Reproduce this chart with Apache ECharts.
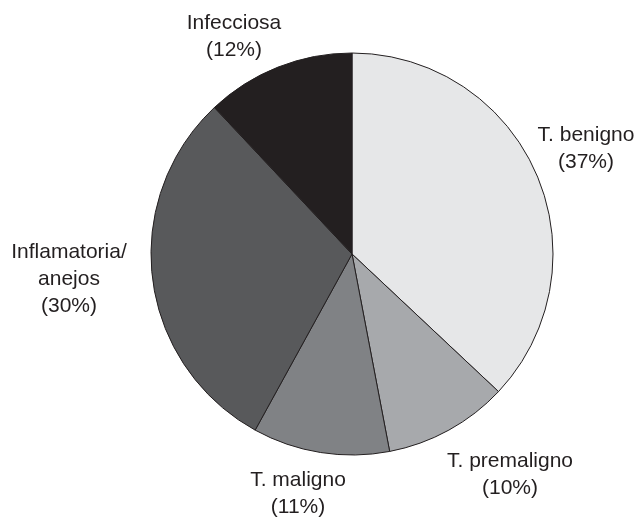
<!DOCTYPE html>
<html>
<head>
<meta charset="utf-8">
<script src="https://cdn.jsdelivr.net/npm/echarts@6/dist/echarts.min.js"></script>
<style>html,body{margin:0;padding:0;background:#fff}#c{width:640px;height:517px}</style>
</head>
<body>
<div id="c"></div>
<script>
const categories = ["T. benigno", "T. premaligno", "T. maligno", "Inflamatoria/\nanejos", "Infecciosa"];
const values = [37, 10, 11, 30, 12];
const colors = ["#e6e7e8", "#a7a9ac", "#808285", "#58595b", "#231f20"];
const labelPos = [[586, 149], [510, 475], [298, 494], [69, 279], [234, 37]];

const chart = echarts.init(document.getElementById('c'), null, {renderer: 'canvas'});
chart.setOption({
  animation: false,
  series: [{
    type: 'pie',
    center: [352, 254],
    radius: [0, 201],
    startAngle: 90,
    clockwise: true,
    data: categories.map((n, i) => ({name: n, value: values[i], itemStyle: {color: colors[i]}})),
    itemStyle: {borderColor: '#231f20', borderWidth: 1},
    label: {
      show: true,
      position: 'outside',
      formatter: p => p.name + '\n(' + p.value + '%)',
      fontFamily: 'Liberation Sans, Arial, sans-serif',
      fontSize: 21,
      lineHeight: 27,
      color: '#231f20',
      align: 'center',
      overflow: 'none',
      width: 300
    },
    labelLine: {show: false},
    labelLayout: params => ({
      x: labelPos[params.dataIndex][0],
      y: labelPos[params.dataIndex][1],
      align: 'center',
      verticalAlign: 'middle'
    }),
    emphasis: {disabled: true}
  }]
});
</script>
</body>
</html>
